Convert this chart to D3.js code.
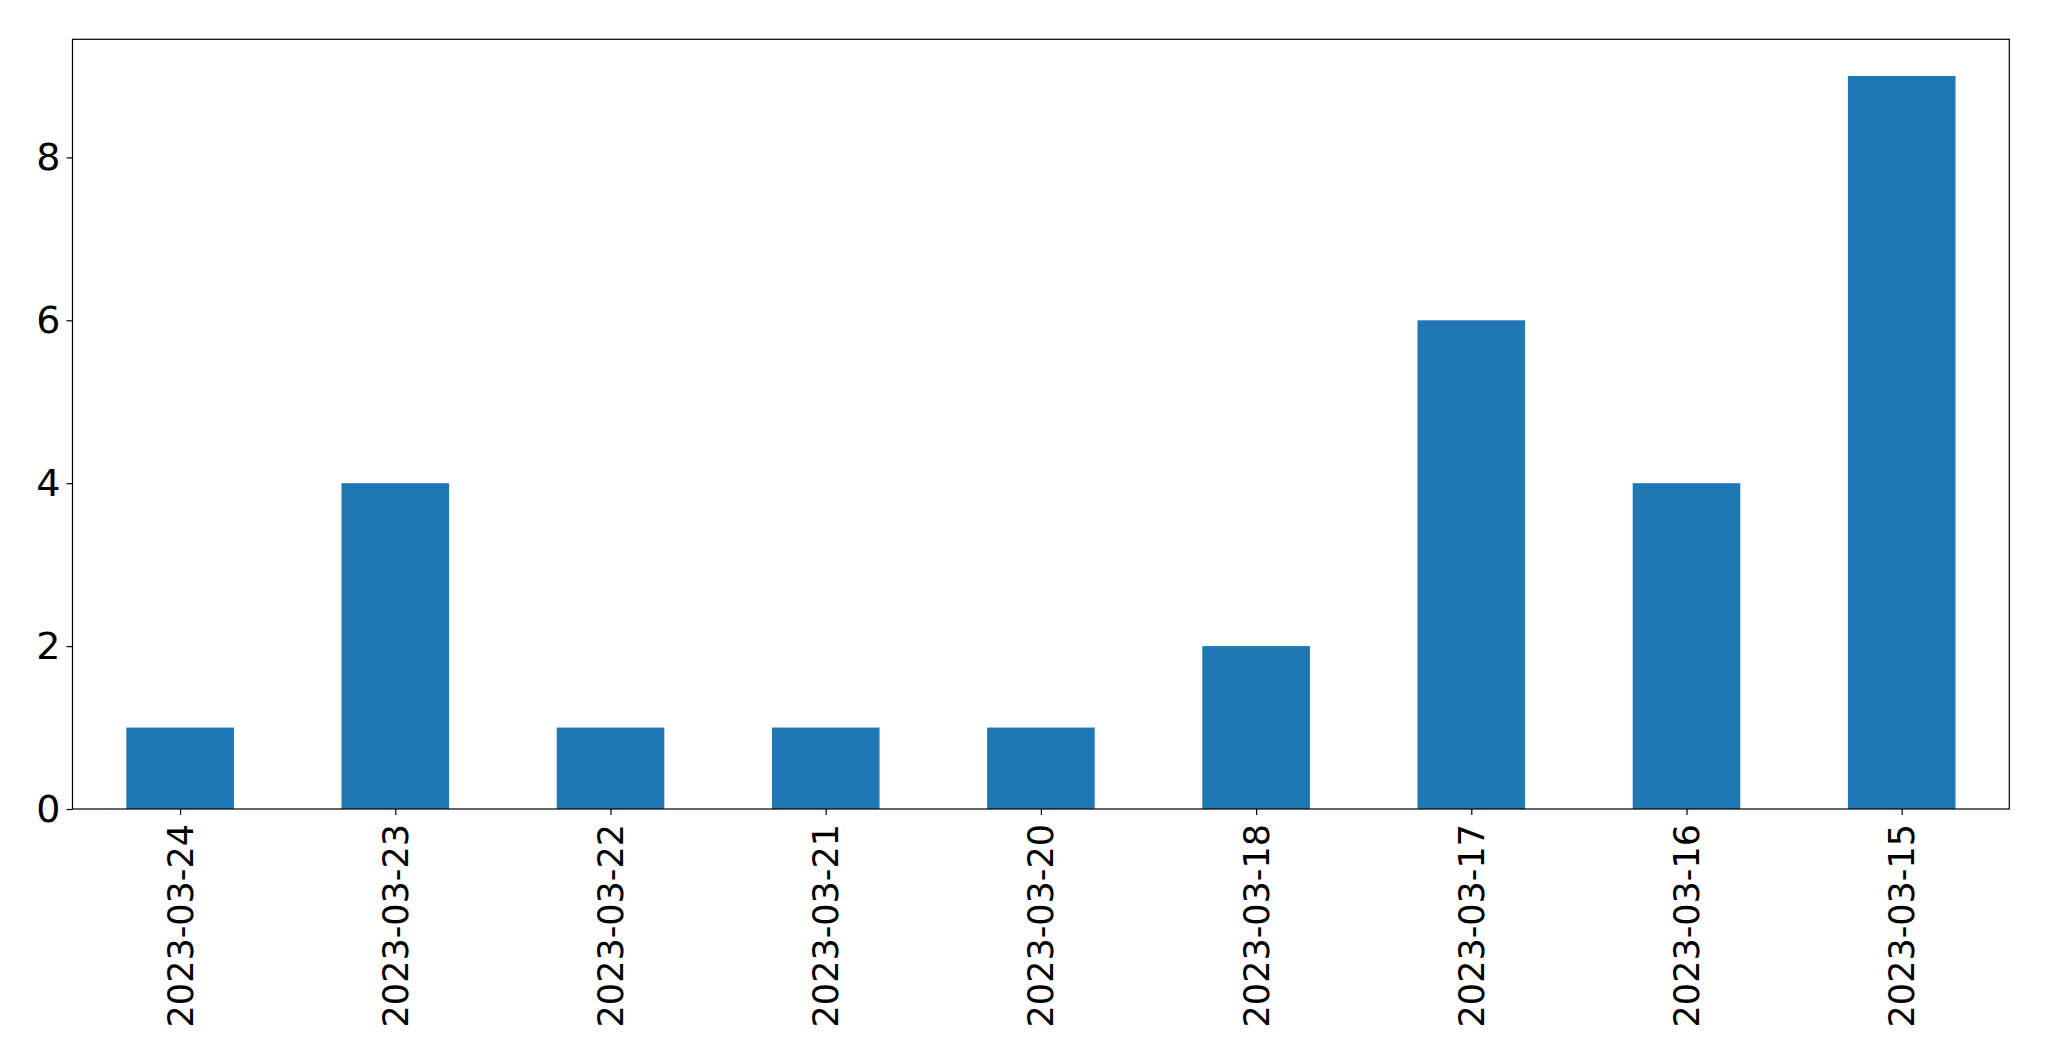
<!DOCTYPE html>
<html><head><meta charset="utf-8">
<script src="https://cdn.jsdelivr.net/npm/d3@7"></script>
<style>body{margin:0;background:#fff}svg{display:block}text{font-family:"DejaVu Sans",sans-serif}</style>
</head><body>
<script>
const categories = ["2023-03-24","2023-03-23","2023-03-22","2023-03-21","2023-03-20","2023-03-18","2023-03-17","2023-03-16","2023-03-15"];
const values = [1,4,1,1,1,2,6,4,9];
const yTicks = [0,2,4,6,8];

const W = 2049, H = 1061;
const m = {left:72.5, right:2049-2009.3, top:39.3, bottom:1061-809};
const svg = d3.select("body").append("svg").attr("width",W).attr("height",H);
const iw = W-m.left-m.right, ih = H-m.top-m.bottom;
const g = svg.append("g").attr("transform",`translate(${m.left},${m.top})`);

const x = d3.scaleLinear().domain([-0.5, categories.length-0.5]).range([0, iw]);
const y = d3.scaleLinear().domain([0, d3.max(values)*1.05]).range([ih, 0]);

g.selectAll("rect.bar").data(values).join("rect").attr("class","bar")
  .attr("x",(d,i)=>x(i-0.25)).attr("width",(d,i)=>x(i+0.25)-x(i-0.25))
  .attr("y",d=>y(d)).attr("height",d=>y(0)-y(d)).attr("fill","#1f77b4");

const yAxis = g.append("g").call(d3.axisLeft(y).tickValues(yTicks).tickSize(6).tickPadding(6).tickFormat(d3.format("d")));
yAxis.select(".domain").remove();
yAxis.selectAll("text").attr("font-size",38).attr("fill","#000").attr("font-family","DejaVu Sans");
yAxis.selectAll("line").attr("stroke","#000").attr("stroke-width",1.2);

const xAxis = g.append("g").attr("transform",`translate(0,${ih})`)
  .call(d3.axisBottom(x).tickValues(d3.range(categories.length)).tickSize(6).tickFormat(i=>categories[i]));
xAxis.select(".domain").remove();
xAxis.selectAll("line").attr("stroke","#000").attr("stroke-width",1.2);
xAxis.selectAll("text").attr("font-size",35).attr("fill","#000").attr("font-family","DejaVu Sans")
  .attr("text-anchor","end").attr("dy",null).attr("y",0)
  .attr("transform","translate(0,15) rotate(-90)").attr("dominant-baseline","central");

g.append("rect").attr("x",0).attr("y",0).attr("width",iw).attr("height",ih)
  .attr("fill","none").attr("stroke","#000").attr("stroke-width",1.2);
</script>
</body></html>
